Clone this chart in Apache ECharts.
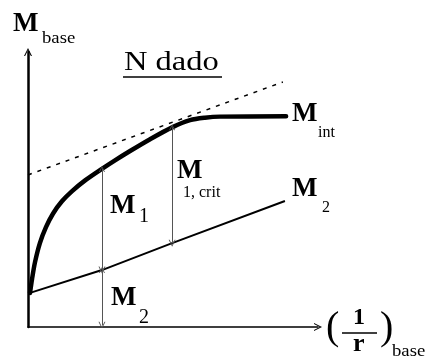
<!DOCTYPE html>
<html>
<head>
<meta charset="utf-8">
<script src="https://cdn.jsdelivr.net/npm/echarts@6/dist/echarts.min.js"></script>
<style>
  html, body { margin: 0; padding: 0; background: #fff; }
  #chart { width: 428px; height: 356px; }
</style>
</head>
<body>
<div id="chart"></div>
<script>
// Interaction diagram for a given axial force N: base moment vs base curvature.
// Abstract units, both axes 0..100.

// M_int: internal (resisting) moment curve
const intX = [0.7, 1.4, 2.4, 4.1, 6.2, 8.6, 11.7, 15.2, 19.7, 25.5, 30.0, 35.2, 42.1, 49.7, 55.9, 61.0, 66.2, 89.0];
const intY = [12.4, 17.5, 23.5, 30.5, 36.3, 41.2, 45.7, 49.4, 53.3, 57.5, 60.6, 64.0, 68.3, 72.6, 75.2, 76.1, 76.5, 76.6];

// M_2: second-order moment line
const m2X = [0.7, 25.5, 49.7, 88.6];
const m2Y = [12.4, 20.7, 30.5, 45.8];

// tangent to M_int (dashed)
const tanX = [0, 87.9];
const tanY = [55.3, 89.1];

// measuring arrows: indices of their ends on M_int and on M_2
const arrowIntIdx = [9, 13];   // M_1 and M_1,crit on M_int
const arrowM2Idx = [1, 2];     // matching points on M_2

const pairs = (xs, ys) => xs.map((x, i) => [x, ys[i]]);

const chevron = 'path://M0,10 L5,0 L10,10 L8.6,10 L5,2.8 L1.4,10 Z';
const FONT = '"Liberation Serif", "Times New Roman", serif';

function txt(str, x, y, size, weight, sx) {
  return {
    type: 'text', x: x, y: y, scaleX: sx || 1,
    style: {
      text: str, x: 0, y: 0,
      font: (weight || 'normal') + ' ' + size + 'px ' + FONT,
      fill: '#000', align: 'left', verticalAlign: 'middle'
    }
  };
}

const arrowLines = [
  // M_1: from M_int down to M_2
  { coords: [[intX[arrowIntIdx[0]], intY[arrowIntIdx[0]]], [m2X[arrowM2Idx[0]], m2Y[arrowM2Idx[0]]]] },
  // M_2: from M_2 down to the axis
  { coords: [[m2X[arrowM2Idx[0]], m2Y[arrowM2Idx[0]]], [m2X[arrowM2Idx[0]], 0.6]] },
  // M_1,crit
  { coords: [[intX[arrowIntIdx[1]], intY[arrowIntIdx[1]]], [m2X[arrowM2Idx[1]], m2Y[arrowM2Idx[1]]]] }
];

const chart = echarts.init(document.getElementById('chart'), null, { renderer: 'canvas' });

const axisCommon = {
  type: 'value', min: 0, max: 100,
  axisTick: { show: false }, axisLabel: { show: false }, splitLine: { show: false }
};

chart.setOption({
  animation: false,
  backgroundColor: '#fff',
  grid: { left: 28, top: 52, width: 290, height: 275 },
  xAxis: Object.assign({}, axisCommon, {
    axisLine: { show: true, symbol: ['none', chevron], symbolSize: [8, 9],
      lineStyle: { color: '#000', width: 1.5 } }
  }),
  yAxis: Object.assign({}, axisCommon, {
    axisLine: { show: true, symbol: ['none', chevron], symbolSize: [8, 9],
      lineStyle: { color: '#000', width: 2.5 } }
  }),
  series: [
    {
      name: 'tangente', type: 'line', data: pairs(tanX, tanY), showSymbol: false,
      lineStyle: { color: '#000', width: 1.5, type: [4, 6] }, z: 2
    },
    {
      name: 'M2', type: 'line', data: pairs(m2X, m2Y), showSymbol: false,
      lineStyle: { color: '#000', width: 2 }, z: 3
    },
    {
      name: 'Mint', type: 'line', data: pairs(intX, intY), showSymbol: false,
      smooth: 0.3,
      lineStyle: { color: '#000', width: 4.5, cap: 'round', join: 'round' }, z: 4
    },
    {
      name: 'cotas', type: 'lines', coordinateSystem: 'cartesian2d',
      data: arrowLines, symbol: [chevron, chevron], symbolSize: [6, 7],
      lineStyle: { color: '#555', width: 1, opacity: 1 }, z: 5
    }
  ],
  graphic: [
    // axis titles
    txt('M', 13, 24, 27, 'bold'),
    txt('base', 42, 39, 17, 'normal', 1.1),
    txt('(', 326, 328, 40),
    txt('1', 353, 318, 24, 'bold'),
    { type: 'line', shape: { x1: 342, y1: 333, x2: 377, y2: 333 }, style: { stroke: '#000', lineWidth: 1.5 } },
    txt('r', 353, 344, 26, 'bold'),
    txt(')', 380, 328, 40),
    txt('base', 392, 352, 17, 'normal', 1.1),
    // title
    txt('N dado', 124, 63, 28, 'normal', 1.16),
    { type: 'line', shape: { x1: 123, y1: 77, x2: 222, y2: 77 }, style: { stroke: '#000', lineWidth: 1.5 } },
    // curve labels
    txt('M', 292, 114, 27, 'bold'),
    txt('int', 318, 133, 16),
    txt('M', 292, 189, 27, 'bold'),
    txt('2', 322, 208, 16),
    txt('M', 177, 171, 27, 'bold'),
    txt('1, crit', 183, 193, 16),
    txt('M', 110, 206, 27, 'bold'),
    txt('1', 139, 217, 20),
    txt('M', 111, 298, 27, 'bold'),
    txt('2', 139, 318, 20)
  ]
});
</script>
</body>
</html>
